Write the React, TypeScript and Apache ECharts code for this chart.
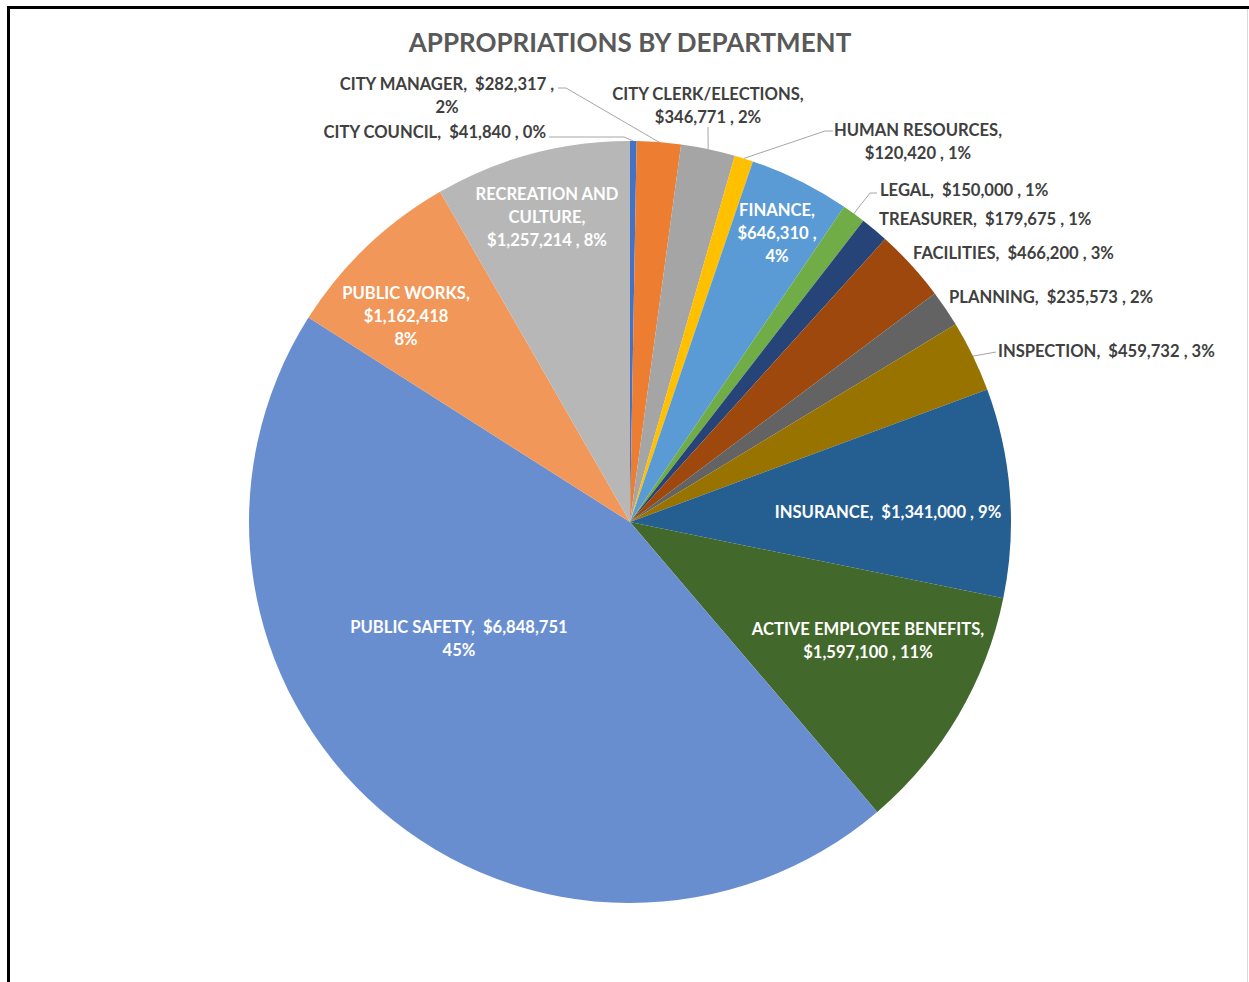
import React, { useEffect, useRef } from "react";
import * as echarts from "echarts";

// ---------------- data ----------------
const departments = [
  "CITY COUNCIL",
  "CITY MANAGER",
  "CITY CLERK/ELECTIONS",
  "HUMAN RESOURCES",
  "FINANCE",
  "LEGAL",
  "TREASURER",
  "FACILITIES",
  "PLANNING",
  "INSPECTION",
  "INSURANCE",
  "ACTIVE EMPLOYEE BENEFITS",
  "PUBLIC SAFETY",
  "PUBLIC WORKS",
  "RECREATION AND CULTURE",
];
const appropriations = [
  41840, 282317, 346771, 120420, 646310, 150000, 179675, 466200, 235573,
  459732, 1341000, 1597100, 6848751, 1162418, 1257214,
];
const chartTitle = "APPROPRIATIONS BY DEPARTMENT";

// ---------------- style / layout ----------------
const sliceColors = [
  "#4472C4", "#ED7D31", "#A5A5A5", "#FFC000", "#5B9BD5", "#70AD47",
  "#264478", "#9E480E", "#636363", "#997300", "#255E91", "#43682B",
  "#698ED0", "#F1975A", "#B7B7B7",
];
const CX = 630;
const CY = 522;
const R = 381;
const FONT = "Lato";

type Cfg = {
  inside: boolean;
  wrap: string;
  dx: number;
  dy: number;
  align: "left" | "right" | "center";
  line: number[][] | null;
};
// label anchor offsets relative to pie centre, and leader-line bend points
const labelCfg: Cfg[] = [
  { inside: false, wrap: "line", dx: -84, dy: -390, align: "right", line: [[-81, -385], [-6, -385]] },
  { inside: false, wrap: "pct", dx: -183, dy: -427, align: "center", line: [[-72, -434], [-64, -434]] },
  { inside: false, wrap: "name", dx: 78, dy: -417, align: "center", line: [[78, -395]] },
  { inside: false, wrap: "name", dx: 288, dy: -381, align: "center", line: [[203, -391], [195, -391]] },
  { inside: true, wrap: "three", dx: 147, dy: -289, align: "center", line: null },
  { inside: false, wrap: "line", dx: 250, dy: -332, align: "left", line: [[247, -329], [240, -329]] },
  { inside: false, wrap: "line", dx: 249, dy: -303, align: "left", line: null },
  { inside: false, wrap: "line", dx: 283, dy: -269, align: "left", line: null },
  { inside: false, wrap: "line", dx: 319, dy: -225, align: "left", line: null },
  { inside: false, wrap: "line", dx: 368, dy: -171, align: "left", line: [[366, -170]] },
  { inside: true, wrap: "line", dx: 258, dy: -10, align: "center", line: null },
  { inside: true, wrap: "name", dx: 238, dy: 118, align: "center", line: null },
  { inside: true, wrap: "pctBare", dx: -171, dy: 116, align: "center", line: null },
  { inside: true, wrap: "threeBare", dx: -224, dy: -206, align: "center", line: null },
  { inside: true, wrap: "words", dx: -83, dy: -305, align: "center", line: null },
];

const total = appropriations.reduce((a, b) => a + b, 0);

function labelText(i: number): string {
  const n = departments[i];
  const v = "$" + appropriations[i].toLocaleString("en-US");
  const p = Math.round((appropriations[i] / total) * 100) + "%";
  switch (labelCfg[i].wrap) {
    case "name":
      return `${n},\n${v} , ${p}`;
    case "three":
      return `${n},\n${v} ,\n${p}`;
    case "threeBare":
      return `${n},\n${v}\n${p}`;
    case "pct":
      return `${n},  ${v} ,\n${p}`;
    case "pctBare":
      return `${n},  ${v}\n${p}`;
    case "words": {
      const w = n.split(" ");
      const last = w.pop();
      return `${w.join(" ")}\n${last},\n${v} , ${p}`;
    }
    default:
      return `${n},  ${v} , ${p}`;
  }
}

// point on the outer arc at the middle of slice i (start at 12 o'clock, clockwise)
function arcPoint(i: number): number[] {
  let before = 0;
  for (let k = 0; k < i; k++) before += appropriations[k];
  const mid = (before + appropriations[i] / 2) / total;
  const a = mid * Math.PI * 2;
  return [CX + R * Math.sin(a), CY - R * Math.cos(a)];
}

export default function App() {
  const ref = useRef<HTMLDivElement>(null);
  useEffect(() => {
    if (!ref.current) return;
    const chart = echarts.init(ref.current, undefined, { renderer: "svg" });
    const data = departments.map((name, i) => {
      const c = labelCfg[i];
      return {
        name,
        value: appropriations[i],
        itemStyle: { color: sliceColors[i] },
        label: {
          position: c.inside ? "inside" : "outside",
          color: c.inside ? "#FFFFFF" : "#404040",
        },
        labelLine: { show: !c.inside && !!c.line },
      };
    });
    chart.setOption({
      animation: false,
      backgroundColor: "#FFFFFF",
      title: {
        text: chartTitle,
        left: CX - 5,
        textAlign: "center",
        top: 24,
        textStyle: {
          fontFamily: FONT,
          fontWeight: "bold",
          fontSize: 26,
          color: "#595959",
        },
      },
      graphic: [
        {
          type: "rect",
          shape: { x: 8.5, y: 7.5, width: 1300, height: 1100 },
          style: { fill: "none", stroke: "#000000", lineWidth: 3 },
          silent: true,
        },
        {
          type: "line",
          shape: { x1: 1247.5, y1: 9, x2: 1247.5, y2: 982 },
          style: { stroke: "#D9D9D9", lineWidth: 1 },
          silent: true,
        },
      ],
      series: [
        {
          type: "pie",
          center: [CX, CY],
          radius: R,
          startAngle: 90,
          clockwise: true,
          avoidLabelOverlap: false,
          minShowLabelAngle: 0,
          itemStyle: { borderWidth: 0 },
          emphasis: { disabled: true },
          label: {
            show: true,
            fontFamily: FONT,
            fontWeight: "bold",
            fontSize: 16.6,
            lineHeight: 23,
            overflow: "none",
            formatter: (p: any) => labelText(p.dataIndex),
          },
          labelLine: {
            lineStyle: { color: "#A6A6A6", width: 1 },
          },
          labelLayout: (p: any) => {
            const i = p.dataIndex;
            const c = labelCfg[i];
            const res: any = {
              x: CX + c.dx,
              y: CY + c.dy,
              align: c.align,
              verticalAlign: "middle",
            };
            if (c.line) {
              res.labelLinePoints = [
                ...c.line.map((pt) => [CX + pt[0], CY + pt[1]]),
                arcPoint(i),
              ];
            }
            return res;
          },
          data,
        },
      ],
    });
    return () => chart.dispose();
  }, []);
  return (
    <div
      ref={ref}
      style={{
        position: "fixed",
        left: 0,
        top: 0,
        width: 1249,
        height: 982,
        background: "#FFFFFF",
      }}
    />
  );
}
